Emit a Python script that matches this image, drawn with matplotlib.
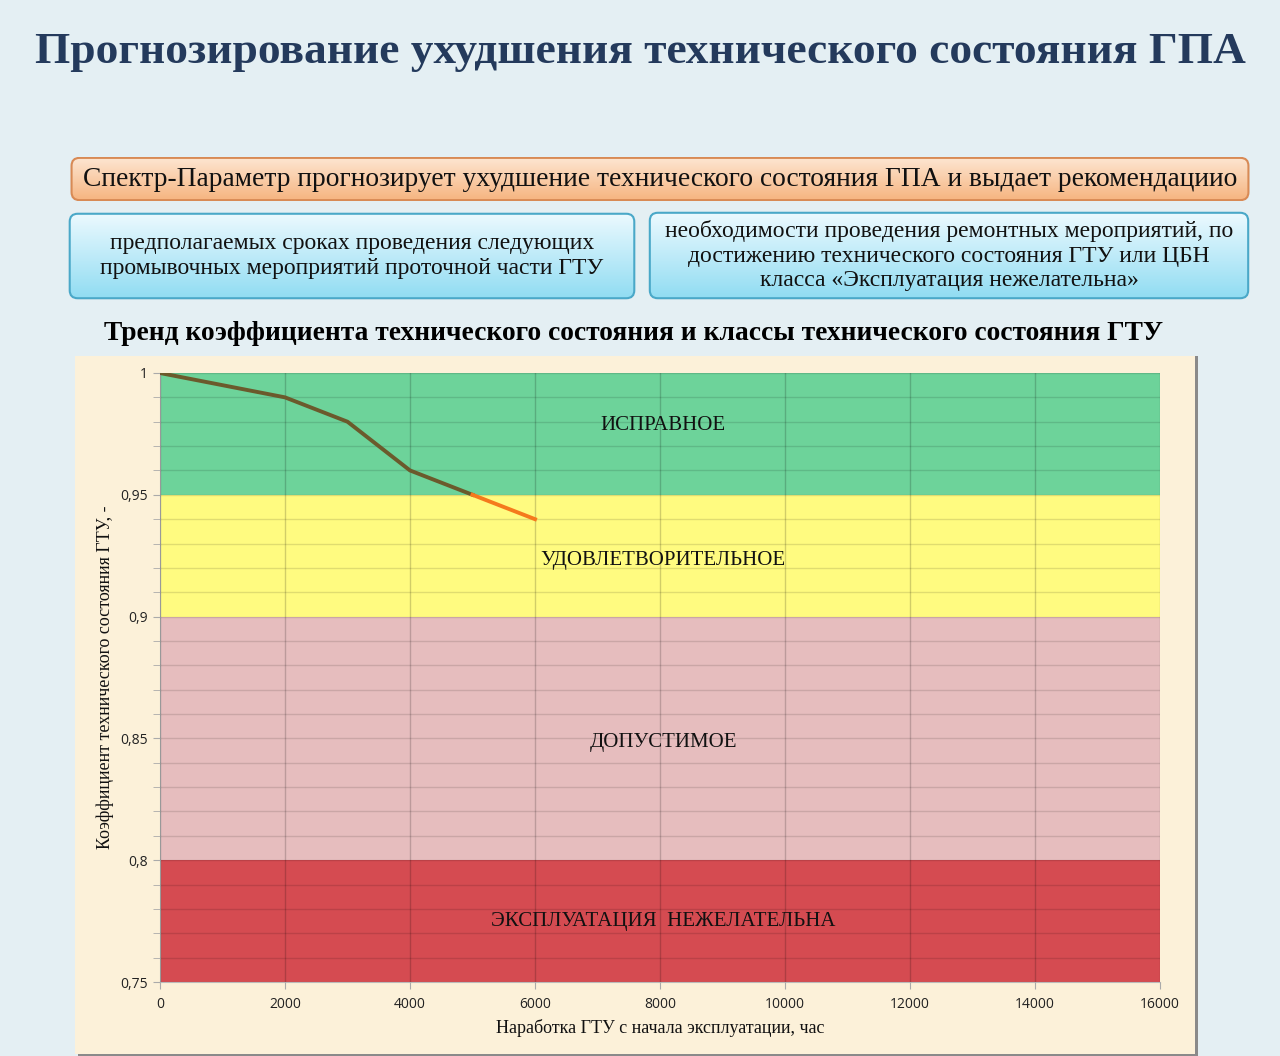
import numpy as np
import matplotlib.pyplot as plt
from matplotlib.colors import to_rgb
from matplotlib.patches import FancyBboxPatch, Rectangle
from matplotlib.ticker import MultipleLocator, FuncFormatter

# данные тренда
hours_actual = [0, 2000, 3000, 4000, 5000]
coef_actual = [1.0, 0.99, 0.98, 0.96, 0.95]
hours_forecast = [5000, 6000]
coef_forecast = [0.95, 0.94]

# классы технического состояния
zone_names = ["ИСПРАВНОЕ", "УДОВЛЕТВОРИТЕЛЬНОЕ", "ДОПУСТИМОЕ", "ЭКСПЛУАТАЦИЯ  НЕЖЕЛАТЕЛЬНА"]
zone_low = [0.95, 0.90, 0.80, 0.75]
zone_high = [1.00, 0.95, 0.90, 0.80]
zone_label_y = [0.9785, 0.923, 0.8485, 0.775]
zone_colors = ["#6dd39a", "#fffb80", "#e6bdbe", "#d54b51"]

title = "Прогнозирование ухудшения технического состояния ГПА"
top_box = "Спектр-Параметр прогнозирует ухудшение технического состояния ГПА и выдает рекомендациио"
left_box = "предполагаемых сроках проведения следующих\nпромывочных мероприятий проточной части ГТУ"
right_box = ("необходимости проведения ремонтных мероприятий, по\n"
             "достижению технического состояния ГТУ или ЦБН\n"
             "класса «Эксплуатация нежелательна»")
chart_title = "Тренд коэффициента технического состояния и классы технического состояния ГТУ"

W, H = 1280, 1056
SERIF = ["Liberation Serif", "DejaVu Serif"]
SANS = ["Open Sans", "DejaVu Sans"]

fig = plt.figure(figsize=(W / 100, H / 100), dpi=100)
fig.patch.set_facecolor("#e4eff3")


def px_rect(x0, y0, x1, y1):
    return [x0 / W, 1 - y1 / H, (x1 - x0) / W, (y1 - y0) / H]


def gradient_box(x0, y0, x1, y1, top_col, bot_col, edge, text, size):
    bx = fig.add_axes(px_rect(x0, y0, x1, y1))
    bx.set_axis_off()
    bx.set_xlim(0, 1)
    bx.set_ylim(0, 1)
    t = np.linspace(0, 1, 64)[:, None, None]
    img = (np.array(to_rgb(top_col)) * (1 - t) + np.array(to_rgb(bot_col)) * t) * np.ones((64, 2, 3))
    im = bx.imshow(img, extent=[0, 1, 0, 1], aspect="auto", origin="upper")
    r = 8 / (x1 - x0)
    box = FancyBboxPatch((0.003, 0.02), 0.994, 0.96,
                         boxstyle=f"round,pad=0,rounding_size={r}",
                         mutation_aspect=(x1 - x0) / (y1 - y0),
                         fc="none", ec=edge, lw=1.5, transform=bx.transAxes)
    bx.add_patch(box)
    im.set_clip_path(box)
    bx.text(0.5, 0.5, text, ha="center", va="center", fontsize=size,
            family=SERIF, color="#111111", linespacing=1.2)


fig.text(0.5, 1 - 52 / H, title, ha="center", va="center", fontsize=32.7,
         fontweight="bold", family=SERIF, color="#243a5c")

gradient_box(68, 157, 1252, 201, "#fde6d2", "#f6b47f", "#d88a55", top_box, 19.8)
gradient_box(68, 212, 636, 300, "#eefaff", "#8fdcf2", "#4aa8c8", left_box, 17)
gradient_box(648, 211, 1250, 300, "#eefaff", "#8fdcf2", "#4aa8c8", right_box, 17)

fig.text(633 / W, 1 - 334 / H, chart_title, ha="center", va="center",
         fontsize=19.8, fontweight="bold", family=SERIF, color="#000000")

# подложка диаграммы
fig.patches.append(Rectangle((78 / W, 1 - 1056 / H), 1120 / W, 700 / H,
                             transform=fig.transFigure, fc="#8a8a8a", ec="none", zorder=-2))
fig.patches.append(Rectangle((75 / W, 1 - 1054 / H), 1120 / W, 698 / H,
                             transform=fig.transFigure, fc="#fcf1d9", ec="none", zorder=-1))

ax = fig.add_axes(px_rect(160, 373, 1160, 982))
ax.set_facecolor("none")
for lo, hi, col in zip(zone_low, zone_high, zone_colors):
    ax.axhspan(lo, hi, color=col, zorder=0, lw=0)
for name, yy in zip(zone_names, zone_label_y):
    ax.text(8050, yy, name, ha="center", va="center", fontsize=15,
            family=SERIF, color="#111111", zorder=3)

ax.plot(hours_actual, coef_actual, color="#6b5a2c", lw=2.8, zorder=4)
ax.plot(hours_forecast, coef_forecast, color="#f57a1c", lw=2.8, zorder=4)

ax.set_xlim(0, 16000)
ax.set_ylim(0.75, 1.0)
ax.xaxis.set_major_locator(MultipleLocator(2000))
ax.yaxis.set_major_locator(MultipleLocator(0.05))
ax.yaxis.set_minor_locator(MultipleLocator(0.01))
ax.yaxis.set_major_formatter(FuncFormatter(lambda v, p: f"{v:.2f}".rstrip("0").rstrip(".").replace(".", ",")))
ax.grid(True, which="major", axis="x", color="#000000", alpha=0.18, lw=1, zorder=1)
ax.grid(True, which="both", axis="y", color="#000000", alpha=0.12, lw=1, zorder=1)
ax.set_axisbelow(False)
for side in ["top", "right"]:
    ax.spines[side].set_visible(False)
for side in ["left", "bottom"]:
    ax.spines[side].set_color("#bbbbbb")
ax.tick_params(which="both", color="#aaaaaa", length=5, labelsize=10, labelcolor="#222222")
ax.tick_params(axis="x", pad=6)
for lbl in ax.get_xticklabels() + ax.get_yticklabels():
    lbl.set_family(SANS)

ax.set_xlabel("Наработка ГТУ с начала эксплуатации, час", fontsize=13,
              family=SERIF, color="#111111", labelpad=5)
ax.set_ylabel("Коэффициент технического состояния ГТУ, -", fontsize=13,
              family=SERIF, color="#111111", labelpad=5)

fig.savefig("out.png", dpi=100, facecolor=fig.get_facecolor())
